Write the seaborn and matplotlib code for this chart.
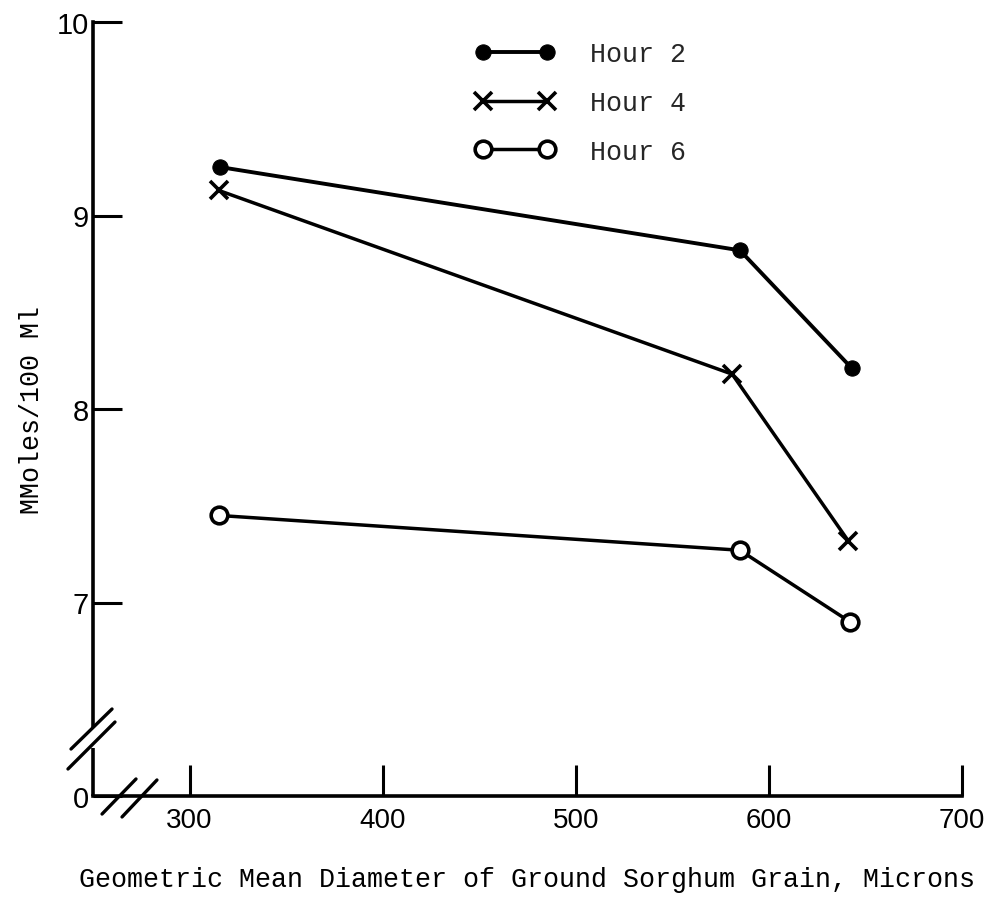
import matplotlib
matplotlib.use("Agg")
import matplotlib.pyplot as plt
import seaborn as sns
import pandas as pd

# ---- data ----
diameter_h2 = [316, 585, 643]
values_h2 = [9.25, 8.82, 8.21]
diameter_h4 = [315, 581, 641]
values_h4 = [9.13, 8.18, 7.32]
diameter_h6 = [315, 585, 642]
values_h6 = [7.45, 7.27, 6.90]

x_ticks = [300, 400, 500, 600, 700]
y_ticks = [6, 7, 8, 9, 10]
y_tick_labels = ["0", "7", "8", "9", "10"]
series_names = ["Hour 2", "Hour 4", "Hour 6"]

sns.set_theme(style="white")
mono = ["Liberation Mono", "DejaVu Sans Mono"]
sans = ["Liberation Sans", "DejaVu Sans"]

fig = plt.figure(figsize=(9.87, 9.03), dpi=100)
ax = fig.add_axes([93 / 987, (903 - 797) / 903, 869 / 987, 774 / 903])

frames = []
for name, xs, ys in zip(series_names,
                        [diameter_h2, diameter_h4, diameter_h6],
                        [values_h2, values_h4, values_h6]):
    frames.append(pd.DataFrame({"Diameter": xs, "Value": ys, "Series": name}))
df = pd.concat(frames, ignore_index=True)

styles = {
    "Hour 2": dict(marker="o", markersize=11, markerfacecolor="black",
                   markeredgecolor="black", linewidth=2.8),
    "Hour 4": dict(marker="x", markersize=13, markeredgewidth=2.6,
                   markeredgecolor="black", linewidth=2.5),
    "Hour 6": dict(marker="o", markersize=12, markerfacecolor="white",
                   markeredgecolor="black", markeredgewidth=2.6, linewidth=2.5),
}
for name in series_names:
    sub = df[df["Series"] == name]
    sns.lineplot(data=sub, x="Diameter", y="Value", ax=ax, color="black",
                 label=name, sort=False, **styles[name])

ax.set_xlim(250, 700)
ax.set_ylim(6, 10)
ax.set_xticks(x_ticks)
ax.set_xticklabels([str(t) for t in x_ticks], family=sans, fontsize=20)
ax.set_yticks(y_ticks)
ax.set_yticklabels(y_tick_labels, family=sans, fontsize=21)
ax.tick_params(axis="x", which="major", bottom=True, direction="in", length=22,
               width=2.2, color="black", pad=8, labelcolor="black")
ax.tick_params(axis="y", which="major", left=True, direction="in", length=21,
               width=2.2, color="black", pad=3, labelcolor="black")

for s in ["top", "right"]:
    ax.spines[s].set_visible(False)
for s in ["left", "bottom"]:
    ax.spines[s].set_color("black")
    ax.spines[s].set_linewidth(2.6)
# broken y axis
ax.spines["left"].set_bounds(6.36, 10)
ax.plot([0, 0], [0, 0.062], transform=ax.transAxes, color="black",
        lw=2.6, clip_on=False, solid_capstyle="butt")
# break marks on y axis
ax.plot([-0.0253, 0.0219], [0.0607, 0.1124], transform=ax.transAxes,
        color="black", lw=2.4, clip_on=False)
ax.plot([-0.0288, 0.0253], [0.0349, 0.0956], transform=ax.transAxes,
        color="black", lw=2.4, clip_on=False)
# break marks on x axis
ax.plot([0.0104, 0.0495], [-0.0233, 0.0220], transform=ax.transAxes,
        color="black", lw=2.4, clip_on=False)
ax.plot([0.0334, 0.0736], [-0.0271, 0.0207], transform=ax.transAxes,
        color="black", lw=2.4, clip_on=False)

ax.set_xlabel("Geometric Mean Diameter of Ground Sorghum Grain, Microns",
              family=mono, fontsize=19.2, color="black", labelpad=24)
ax.set_ylabel("MMoles/100 Ml", family=mono, fontsize=19.2, color="black",
              labelpad=8)

leg = ax.legend(loc="upper left", bbox_to_anchor=(0.44, 0.975), frameon=False,
                numpoints=2, handlelength=3.0, handletextpad=1.3,
                labelspacing=0.85, borderpad=0, borderaxespad=0,
                prop={"family": mono, "size": 19.2})

fig.savefig("out.png", dpi=100, facecolor="white")
